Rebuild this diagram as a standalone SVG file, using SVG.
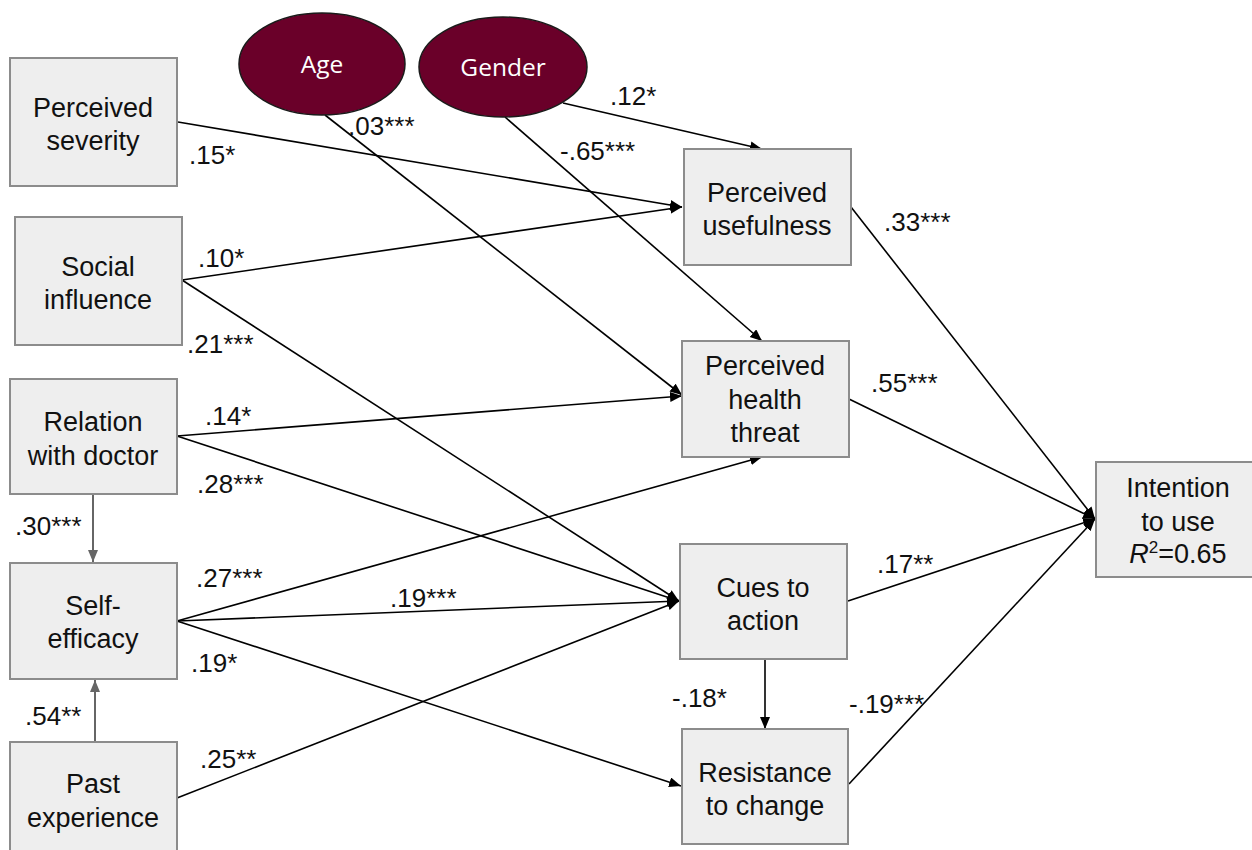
<svg xmlns="http://www.w3.org/2000/svg" width="1252" height="850" viewBox="0 0 1252 850">
<defs>
<marker id="ah" markerUnits="userSpaceOnUse" markerWidth="13" markerHeight="11" refX="12" refY="5" orient="auto">
<path d="M0,0 L12,5 L0,10 z" fill="#000"/>
</marker>
<marker id="ahg" markerUnits="userSpaceOnUse" markerWidth="13" markerHeight="11" refX="12" refY="5" orient="auto">
<path d="M0,0 L12,5 L0,10 z" fill="#666"/>
</marker>
<style>
.box{fill:#eeeeee;stroke:#8c8c8c;stroke-width:2}
.ell{fill:#6a0029;stroke:#1a1a1a;stroke-width:1.5}
.t{font-family:"Liberation Sans",Arial,sans-serif;font-size:27px;fill:#111;text-anchor:middle}
.et{font-family:"Open Sans",sans-serif;font-size:24.5px;fill:#fff;text-anchor:middle}
.lb{font-family:"Liberation Sans",Arial,sans-serif;font-size:26px;fill:#111}
.c{stroke:#000;stroke-width:1.6;fill:none;marker-end:url(#ah)}
.cg{stroke:#666;stroke-width:2;fill:none;marker-end:url(#ahg)}
</style>
</defs>
<rect width="1252" height="850" fill="#fff"/>
<g id="connectors">
<line class="c" x1="178" y1="122" x2="682" y2="207"/>
<line class="c" x1="182" y1="280" x2="682" y2="207"/>
<line class="c" x1="182" y1="280" x2="679" y2="601"/>
<line class="c" x1="325" y1="115" x2="682" y2="395"/>
<line class="c" x1="505" y1="117" x2="762" y2="341"/>
<line class="c" x1="563" y1="103" x2="762" y2="149"/>
<line class="c" x1="177" y1="436" x2="682" y2="396"/>
<line class="c" x1="177" y1="436" x2="679" y2="601"/>
<line class="c" x1="177" y1="621" x2="762" y2="457"/>
<line class="c" x1="177" y1="621" x2="679" y2="601"/>
<line class="c" x1="177" y1="621" x2="681" y2="786"/>
<line class="c" x1="177" y1="798" x2="679" y2="601"/>
<line class="c" x1="765" y1="659" x2="765" y2="729"/>
<line class="c" x1="851" y1="207" x2="1095" y2="519"/>
<line class="c" x1="849" y1="399" x2="1095" y2="519"/>
<line class="c" x1="848" y1="601" x2="1095" y2="519"/>
<line class="c" x1="849" y1="784" x2="1095" y2="519"/>
<line class="cg" x1="93" y1="494" x2="93" y2="562"/>
<line class="cg" x1="95" y1="742" x2="95" y2="680"/>
<text class="lb" x="189" y="164">.15*</text>
<text class="lb" x="198" y="267">.10*</text>
<text class="lb" x="187" y="353">.21***</text>
<text class="lb" x="348" y="135">.03***</text>
<text class="lb" x="560" y="160">-.65***</text>
<text class="lb" x="610" y="105">.12*</text>
<text class="lb" x="205" y="425">.14*</text>
<text class="lb" x="197" y="493">.28***</text>
<text class="lb" x="15" y="535">.30***</text>
<text class="lb" x="196" y="587">.27***</text>
<text class="lb" x="390" y="607">.19***</text>
<text class="lb" x="191" y="672">.19*</text>
<text class="lb" x="25" y="725">.54**</text>
<text class="lb" x="200" y="768">.25**</text>
<text class="lb" x="672" y="707">-.18*</text>
<text class="lb" x="849" y="713">-.19***</text>
<text class="lb" x="884" y="231">.33***</text>
<text class="lb" x="871" y="392">.55***</text>
<text class="lb" x="877" y="573">.17**</text>
</g>
<g id="age">
<ellipse class="ell" cx="322" cy="64" rx="83" ry="51"/>
<text class="et" x="322" y="73">Age</text>
</g>
<g id="gender">
<ellipse class="ell" cx="503" cy="67" rx="84" ry="50"/>
<text class="et" x="503" y="76">Gender</text>
</g>
<g id="perceived-severity">
<rect class="box" x="10" y="58" width="167" height="128"/>
<text class="t" x="93" y="117">Perceived</text>
<text class="t" x="93" y="150">severity</text>
</g>
<g id="social-influence">
<rect class="box" x="15" y="217" width="167" height="128"/>
<text class="t" x="98" y="276">Social</text>
<text class="t" x="98" y="309">influence</text>
</g>
<g id="relation-with-doctor">
<rect class="box" x="10" y="379" width="167" height="115"/>
<text class="t" x="93" y="431">Relation</text>
<text class="t" x="93" y="465">with doctor</text>
</g>
<g id="self-efficacy">
<rect class="box" x="10" y="563" width="167" height="116"/>
<text class="t" x="93" y="615">Self-</text>
<text class="t" x="93" y="648">efficacy</text>
</g>
<g id="past-experience">
<rect class="box" x="10" y="742" width="167" height="120"/>
<text class="t" x="93" y="793">Past</text>
<text class="t" x="93" y="827">experience</text>
</g>
<g id="perceived-usefulness">
<rect class="box" x="684" y="149" width="167" height="116"/>
<text class="t" x="767" y="202">Perceived</text>
<text class="t" x="767" y="235">usefulness</text>
</g>
<g id="perceived-health-threat">
<rect class="box" x="682" y="341" width="167" height="116"/>
<text class="t" x="765" y="375">Perceived</text>
<text class="t" x="765" y="409">health</text>
<text class="t" x="765" y="442">threat</text>
</g>
<g id="cues-to-action">
<rect class="box" x="680" y="544" width="167" height="115"/>
<text class="t" x="763" y="597">Cues to</text>
<text class="t" x="763" y="630">action</text>
</g>
<g id="resistance-to-change">
<rect class="box" x="682" y="729" width="166" height="115"/>
<text class="t" x="765" y="782">Resistance</text>
<text class="t" x="765" y="815">to change</text>
</g>
<g id="intention-to-use">
<rect class="box" x="1096" y="462" width="160" height="115"/>
<text class="t" x="1178" y="497">Intention</text>
<text class="t" x="1178" y="531">to use</text>
<text class="t" x="1178" y="563"><tspan font-style="italic">R</tspan><tspan font-size="17" dy="-10">2</tspan><tspan dy="10">=0.65</tspan></text>
</g>
</svg>
